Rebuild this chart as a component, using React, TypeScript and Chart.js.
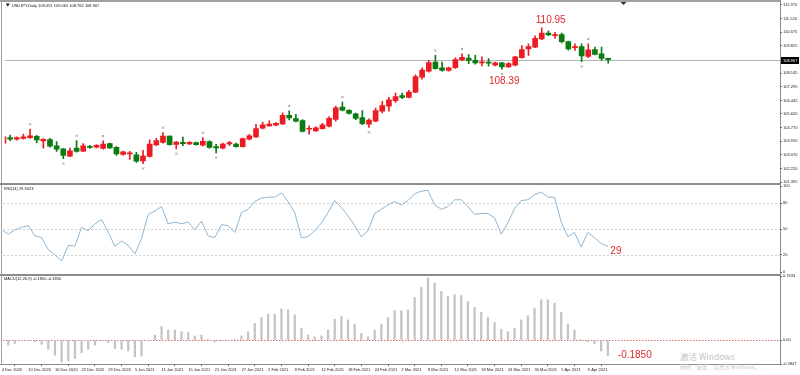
import React, { useEffect, useRef } from "react";
import { Chart, registerables } from "chart.js";
Chart.register(...registerables);

const FONT = "'Liberation Sans', Arial, sans-serif";
const RED = "#ec1c24";
const GREEN = "#0b7c12";
const ANNOT = "#e0282c";

const symbolTitle = "USDJPY,Daily 109.051 109.065 108.762 108.967";
const rsiTitle = "RSI(14) 29.9023";
const macdTitle = "MACD(12,26,9) -0.1850 -0.1850";

const opens = [
  103.8, 104.14, 104.04, 104.1, 104.14, 104.22, 103.94, 104.02, 103.63, 103.45,
  103.0, 103.49, 103.31, 103.61, 103.55, 103.47, 103.77, 103.55, 103.1, 103.14,
  103.08, 102.7, 102.98, 103.69, 103.85, 104.24, 103.73, 103.85, 103.75, 103.83,
  103.67, 103.9, 103.59, 103.49, 103.75, 103.75, 103.59, 104.04, 104.18, 104.73,
  104.87, 104.91, 104.99, 105.52, 105.32, 105.2, 104.66, 104.56, 104.7, 104.85,
  105.27, 106.03, 105.84, 105.62, 105.38, 104.97, 105.17, 105.78, 106.09, 106.43,
  106.74, 106.64, 106.96, 107.88, 108.26, 108.83, 108.47, 108.3, 108.47, 108.95,
  109.07, 108.93, 108.77, 108.83, 108.63, 108.77, 108.53, 108.63, 109.1, 109.64,
  109.75, 110.25, 110.62, 110.46, 110.52, 110.09, 109.71, 109.79, 109.18, 109.6,
  109.34, 109.051,
];
const highs = [
  104.25, 104.3, 104.2, 104.36, 104.67, 104.28, 104.08, 104.1, 103.9, 103.47,
  103.49, 103.96, 103.78, 103.67, 103.71, 103.94, 103.8, 103.59, 103.31, 103.29,
  103.24, 103.35, 104.0, 104.1, 104.46, 104.26, 103.92, 104.18, 103.9, 103.87,
  104.14, 103.94, 103.73, 103.8, 103.92, 103.81, 104.12, 104.34, 104.97, 105.11,
  105.18, 105.07, 105.68, 105.81, 105.58, 105.26, 104.87, 104.81, 105.03, 105.44,
  106.09, 106.35, 105.88, 105.66, 105.82, 105.31, 105.98, 106.39, 106.64, 106.9,
  106.9, 107.07, 108.03, 108.47, 108.93, 109.24, 108.83, 108.51, 109.09, 109.34,
  109.28, 109.24, 109.14, 109.04, 108.83, 108.81, 108.79, 109.18, 109.85, 109.95,
  110.45, 110.95, 110.76, 110.66, 110.62, 110.13, 109.95, 109.95, 109.95, 109.75,
  109.75, 109.065,
];
const lows = [
  103.75, 103.96, 103.98, 104.05, 104.1, 103.81, 103.49, 103.55, 103.29, 102.84,
  102.96, 103.25, 103.27, 103.47, 103.51, 103.43, 103.47, 103.04, 103.06, 102.8,
  102.61, 102.53, 102.94, 103.65, 103.8, 103.67, 103.45, 103.65, 103.71, 103.67,
  103.63, 103.49, 103.2, 103.45, 103.65, 103.55, 103.55, 104.0, 104.14, 104.69,
  104.83, 104.87, 104.95, 105.24, 105.12, 104.49, 104.36, 104.52, 104.66, 104.81,
  105.17, 105.8, 105.6, 105.26, 104.95, 104.77, 105.13, 105.68, 105.78, 106.33,
  106.55, 106.6, 106.92, 107.77, 108.2, 108.38, 108.26, 108.26, 108.43, 108.91,
  108.73, 108.69, 108.59, 108.57, 108.59, 108.39, 108.49, 108.59, 109.06, 109.24,
  109.71, 110.21, 110.46, 110.29, 110.01, 109.56, 109.54, 108.85, 109.1, 109.26,
  108.93, 108.762,
];
const closes = [
  104.2, 104.04, 104.14, 104.2, 104.26, 104.0, 104.04, 103.61, 103.43, 103.04,
  103.33, 103.29, 103.63, 103.53, 103.67, 103.75, 103.51, 103.14, 103.27, 103.2,
  102.68, 103.0, 103.75, 103.96, 104.24, 103.71, 103.87, 103.77, 103.85, 103.71,
  103.92, 103.53, 103.51, 103.75, 103.83, 103.59, 104.08, 104.26, 104.71, 104.93,
  104.99, 105.03, 105.52, 105.36, 105.16, 104.53, 104.72, 104.75, 104.93, 105.34,
  105.99, 105.84, 105.64, 105.34, 105.01, 105.23, 105.82, 106.13, 106.49, 106.68,
  106.64, 106.96, 107.92, 108.32, 108.79, 108.42, 108.3, 108.47, 108.97, 109.12,
  108.93, 108.77, 108.83, 108.75, 108.77, 108.53, 108.73, 109.14, 109.6, 109.79,
  110.29, 110.62, 110.5, 110.52, 110.09, 109.64, 109.79, 109.2, 109.58, 109.3,
  109.05, 108.967,
];

const rsiValues = [
  49, 44, 49, 52, 54, 42, 40, 26, 20, 13,
  31, 30, 52, 48, 56, 61, 46, 30, 36, 31,
  21, 39, 67, 71, 76, 56, 58, 56, 58, 49,
  59, 42, 40, 55, 54, 46, 69, 73, 82, 86,
  87, 87, 92, 82, 69, 40, 41, 48, 57, 69,
  83, 75, 65, 54, 41, 48, 68, 73, 78, 82,
  78, 83, 91, 94, 95, 78, 73, 76, 84, 84,
  76, 67, 68, 68, 63, 44, 57, 74, 83, 84,
  90, 93, 87, 87, 58, 41, 46, 29, 46, 40,
  33, 29.9,
];

const macdValues = [
  -0.03, -0.06, -0.04, -0.01, -0.01, -0.02, -0.05, -0.11, -0.18, -0.26,
  -0.25, -0.22, -0.15, -0.11, -0.06, -0.01, -0.03, -0.1, -0.11, -0.13,
  -0.2, -0.19, -0.01, 0.06, 0.16, 0.12, 0.12, 0.1, 0.09, 0.05,
  0.06, 0.005, -0.02, -0.01, -0.005, 0.005, 0.05, 0.1, 0.2, 0.27,
  0.31, 0.31, 0.37, 0.36, 0.3, 0.14, 0.06, 0.04, 0.05, 0.12,
  0.25, 0.28, 0.24, 0.19, 0.08, 0.04, 0.12, 0.19, 0.27, 0.35,
  0.35, 0.36, 0.51, 0.63, 0.74, 0.68, 0.58, 0.52, 0.54, 0.53,
  0.46, 0.39, 0.33, 0.27, 0.21, 0.13, 0.1, 0.14, 0.24, 0.29,
  0.38, 0.48, 0.48, 0.44, 0.33, 0.19, 0.12, 0.005, -0.02, -0.04,
  -0.13, -0.185,
];

const fractalUp = [4, 11, 15, 24, 30, 43, 51, 65, 69, 81, 88];
const fractalDown = [9, 21, 26, 32, 55, 75, 87];

const dateLabels = [
  "4 Dec 2020", "10 Dec 2020", "16 Dec 2020", "22 Dec 2020", "29 Dec 2020",
  "5 Jan 2021", "11 Jan 2021", "15 Jan 2021", "21 Jan 2021", "27 Jan 2021",
  "2 Feb 2021", "8 Feb 2021", "12 Feb 2021", "18 Feb 2021", "24 Feb 2021",
  "2 Mar 2021", "8 Mar 2021", "12 Mar 2021", "18 Mar 2021", "24 Mar 2021",
  "30 Mar 2021", "5 Apr 2021", "9 Apr 2021",
];
const dateStep = 4;

const priceTicks = [
  112.37, 111.52, 110.675, 109.825, 108.145, 107.295, 106.445, 105.62,
  104.77, 103.92, 103.07, 102.22, 101.395,
];
const rsiTicks = [100, 80, 50, 20, 0];
const rsiLevels = [80, 50, 20];
const macdTicks = [0.7633, 0, -0.2847];

const peakIndex = 81;
const troughIndex = 75;

const X_MIN = 0.2;
const X_MAX = 116.85;

const candleColors = opens.map((o, i) => (closes[i] >= o ? RED : GREEN));

function zeroPad(s: any) {
  s.paddingTop = 0;
  s.paddingBottom = 0;
  s.paddingLeft = 0;
  s.paddingRight = 0;
}

function hiddenX() {
  return { type: "linear", min: X_MIN, max: X_MAX, offset: false, display: false };
}

function rightAxis(min: number, max: number, ticks: number[], fmt: (v: number) => string) {
  return {
    position: "right",
    min,
    max,
    afterFit: (s: any) => {
      s.width = 20;
      zeroPad(s);
    },
    afterBuildTicks: (s: any) => {
      s.ticks = ticks.map((v) => ({ value: v }));
    },
    ticks: {
      autoSkip: false,
      padding: 1,
      font: { size: 4, family: FONT },
      color: "#222",
      callback: (v: any) => fmt(Number(v)),
    },
    grid: { drawOnChartArea: false, drawTicks: true, tickLength: 2, color: "#666" },
    border: { display: false },
  };
}

const common = {
  animation: false,
  responsive: false,
  devicePixelRatio: 1,
  events: [],
  plugins: { legend: { display: false }, tooltip: { enabled: false } },
};

const pricePlugin = {
  id: "priceDeco",
  beforeDatasetsDraw(chart: any) {
    const { ctx, chartArea: a, scales } = chart;
    const last = closes[closes.length - 1];
    const py = Math.round(scales.y.getPixelForValue(last)) + 0.5;
    ctx.save();
    ctx.strokeStyle = "#b4b4b4";
    ctx.lineWidth = 1;
    ctx.beginPath();
    ctx.moveTo(a.left, py);
    ctx.lineTo(a.right, py);
    ctx.stroke();
    ctx.restore();
  },
  afterDraw(chart: any) {
    const { ctx, chartArea: a, scales } = chart;
    const { x, y } = scales;
    const last = closes[closes.length - 1];
    const py = Math.round(y.getPixelForValue(last)) + 0.5;
    ctx.save();
    ctx.fillStyle = "#000";
    ctx.fillRect(a.right + 1, py - 3.5, 18, 7);
    ctx.fillStyle = "#fff";
    ctx.font = `4px ${FONT}`;
    ctx.textAlign = "left";
    ctx.textBaseline = "middle";
    ctx.fillText(last.toFixed(3), a.right + 3, py);
    // title
    ctx.fillStyle = "#111";
    ctx.beginPath();
    ctx.moveTo(a.left + 1, 3.5);
    ctx.lineTo(a.left + 5, 3.5);
    ctx.lineTo(a.left + 3, 6.5);
    ctx.closePath();
    ctx.fill();
    ctx.fillText(symbolTitle, a.left + 7, 5.5);
    // shift marker
    const sx = x.getPixelForValue(opens.length - 1 + 2.3);
    ctx.fillStyle = "#333";
    ctx.beginPath();
    ctx.moveTo(sx - 3, 2);
    ctx.lineTo(sx + 3, 2);
    ctx.lineTo(sx, 5);
    ctx.closePath();
    ctx.fill();
    // annotations
    ctx.fillStyle = ANNOT;
    ctx.font = `10px ${FONT}`;
    ctx.textBaseline = "alphabetic";
    const hx = x.getPixelForValue(peakIndex);
    const hy = y.getPixelForValue(highs[peakIndex]);
    ctx.fillText(highs[peakIndex].toFixed(2), hx - 6, hy - 5);
    const lx = x.getPixelForValue(troughIndex);
    const ly = y.getPixelForValue(lows[troughIndex]);
    ctx.fillText(lows[troughIndex].toFixed(2), lx - 13, ly + 15);
    ctx.restore();
  },
};

const rsiPlugin = {
  id: "rsiDeco",
  beforeDatasetsDraw(chart: any) {
    const { ctx, chartArea: a, scales } = chart;
    ctx.save();
    ctx.strokeStyle = "#cfcfcf";
    ctx.lineWidth = 1;
    ctx.setLineDash([2, 2]);
    rsiLevels.forEach((lv) => {
      const py = Math.round(scales.y.getPixelForValue(lv)) + 0.5;
      ctx.beginPath();
      ctx.moveTo(a.left, py);
      ctx.lineTo(a.right, py);
      ctx.stroke();
    });
    ctx.restore();
  },
  afterDraw(chart: any) {
    const { ctx, chartArea: a, scales } = chart;
    ctx.save();
    ctx.fillStyle = "#111";
    ctx.font = `4px ${FONT}`;
    ctx.textAlign = "left";
    ctx.textBaseline = "middle";
    ctx.fillText(rsiTitle, a.left + 1, a.top + 2.5);
    const n = rsiValues.length - 1;
    const px = scales.x.getPixelForValue(n);
    const py = scales.y.getPixelForValue(rsiValues[n]);
    ctx.fillStyle = ANNOT;
    ctx.font = `10px ${FONT}`;
    ctx.textBaseline = "alphabetic";
    ctx.fillText(String(Math.floor(rsiValues[n])), px + 2.5, py + 8);
    ctx.restore();
  },
};

const macdPlugin = {
  id: "macdDeco",
  beforeDatasetsDraw(chart: any) {
    const { ctx, chartArea: a, scales } = chart;
    ctx.save();
    ctx.strokeStyle = "#e06a6a";
    ctx.lineWidth = 1;
    ctx.setLineDash([1.5, 1.5]);
    const py = Math.round(scales.y.getPixelForValue(0)) + 0.5;
    ctx.beginPath();
    ctx.moveTo(a.left, py);
    ctx.lineTo(a.right, py);
    ctx.stroke();
    ctx.restore();
  },
  afterDraw(chart: any) {
    const { ctx, chartArea: a, scales } = chart;
    ctx.save();
    ctx.fillStyle = "#111";
    ctx.font = `4px ${FONT}`;
    ctx.textAlign = "left";
    ctx.textBaseline = "middle";
    ctx.fillText(macdTitle, a.left + 1, a.top + 3);
    const n = macdValues.length - 1;
    const px = scales.x.getPixelForValue(n);
    const py = scales.y.getPixelForValue(macdValues[n]);
    ctx.fillStyle = ANNOT;
    ctx.font = `10px ${FONT}`;
    ctx.textBaseline = "alphabetic";
    ctx.fillText(macdValues[n].toFixed(4), px + 10, py + 2.5);
    ctx.restore();
  },
};

export default function App() {
  const r1 = useRef<HTMLCanvasElement>(null);
  const r2 = useRef<HTMLCanvasElement>(null);
  const r3 = useRef<HTMLCanvasElement>(null);

  useEffect(() => {
    document.body.style.margin = "0";

    const c1 = new Chart(r1.current as HTMLCanvasElement, {
      type: "bar",
      data: {
        datasets: [
          {
            type: "bar",
            data: opens.map((o, i) => ({ x: i, y: [o, closes[i]] })),
            backgroundColor: candleColors,
            barThickness: 5,
            minBarLength: 1,
            grouped: false,
            order: 0,
          },
          {
            type: "bar",
            data: highs.map((h, i) => ({ x: i, y: [lows[i], h] })),
            backgroundColor: candleColors,
            barThickness: 1,
            grouped: false,
            order: 1,
          },
          {
            type: "scatter",
            data: [
              ...fractalUp.map((i) => ({ x: i, y: highs[i] + 0.3 })),
              ...fractalDown.map((i) => ({ x: i, y: lows[i] - 0.3 })),
            ],
            pointStyle: "crossRot",
            pointRadius: 1.5,
            borderColor: "#8c8c8c",
            backgroundColor: "#8c8c8c",
            borderWidth: 0.8,
            order: 2,
          },
        ],
      },
      options: {
        ...common,
        layout: { padding: { top: 2, bottom: 193, left: 3, right: 0 } },
        scales: {
          x: hiddenX(),
          y: rightAxis(101.395, 112.37, priceTicks, (v) => v.toFixed(3)),
        },
      },
      plugins: [pricePlugin],
    } as any);

    const c2 = new Chart(r2.current as HTMLCanvasElement, {
      type: "line",
      data: {
        datasets: [
          {
            data: rsiValues.map((v, i) => ({ x: i, y: v })),
            borderColor: "#8fb6d2",
            borderWidth: 1,
            pointRadius: 0,
            tension: 0,
          },
        ],
      },
      options: {
        ...common,
        layout: { padding: { top: 186, bottom: 103, left: 3, right: 0 } },
        scales: {
          x: hiddenX(),
          y: rightAxis(0, 100, rsiTicks, (v) => String(v)),
        },
      },
      plugins: [rsiPlugin],
    } as any);

    const c3 = new Chart(r3.current as HTMLCanvasElement, {
      type: "bar",
      data: {
        datasets: [
          {
            data: macdValues.map((v, i) => ({ x: i, y: v })),
            backgroundColor: "#c4c4c4",
            barThickness: 1.6,
          },
        ],
      },
      options: {
        ...common,
        layout: { padding: { top: 276, bottom: 0, left: 3, right: 0 } },
        scales: {
          x: {
            type: "linear",
            min: X_MIN,
            max: X_MAX,
            offset: false,
            afterBuildTicks: (s: any) => {
              s.ticks = dateLabels.map((_, k) => ({ value: k * dateStep }));
            },
            afterFit: (s: any) => {
              s.height = 11;
              zeroPad(s);
            },
            ticks: {
              autoSkip: false,
              maxRotation: 0,
              align: "start",
              padding: 1,
              font: { size: 4, family: FONT },
              color: "#222",
              callback: (_v: any, idx: number) => dateLabels[idx],
            },
            grid: { drawOnChartArea: false, drawTicks: true, tickLength: 2, color: "#666" },
            border: { display: false },
          },
          y: rightAxis(-0.2847, 0.7633, macdTicks, (v) => (v === 0 ? "0.00" : v.toFixed(4))),
        },
      },
      plugins: [macdPlugin],
    } as any);

    return () => {
      c1.destroy();
      c2.destroy();
      c3.destroy();
    };
  }, []);

  const line = (s: React.CSSProperties) => (
    <div style={{ position: "absolute", background: "#8c8c8c", ...s }} />
  );
  const cv: React.CSSProperties = { position: "absolute", left: 0, top: 0 };

  return (
    <div style={{ position: "relative", width: 800, height: 375, background: "#fff", overflow: "hidden" }}>
      {line({ left: 0, top: 0, width: 781, height: 2, background: "#a0a0a0" })}
      {line({ left: 1, top: 0, width: 1, height: 365, background: "#a0a0a0" })}
      {line({ left: 0, top: 183, width: 781, height: 2 })}
      {line({ left: 0, top: 274, width: 781, height: 2 })}
      {line({ left: 0, top: 364, width: 781, height: 1 })}
      {line({ left: 780, top: 0, width: 1, height: 365 })}
      <div
        style={{
          position: "absolute",
          left: 680,
          top: 351,
          fontFamily: "'Noto Sans CJK SC', sans-serif",
          fontSize: 8.5,
          lineHeight: "10px",
          color: "#c2c2c2",
          whiteSpace: "nowrap",
        }}
      >
        激活 Windows
      </div>
      <div
        style={{
          position: "absolute",
          left: 680,
          top: 364,
          fontFamily: "'Noto Sans CJK SC', sans-serif",
          fontSize: 5.5,
          lineHeight: "7px",
          color: "#c8c8c8",
          whiteSpace: "nowrap",
        }}
      >
        转到“设置”以激活 Windows。
      </div>
      <canvas ref={r1} width={800} height={375} style={cv} />
      <canvas ref={r2} width={800} height={375} style={cv} />
      <canvas ref={r3} width={800} height={375} style={cv} />
    </div>
  );
}
